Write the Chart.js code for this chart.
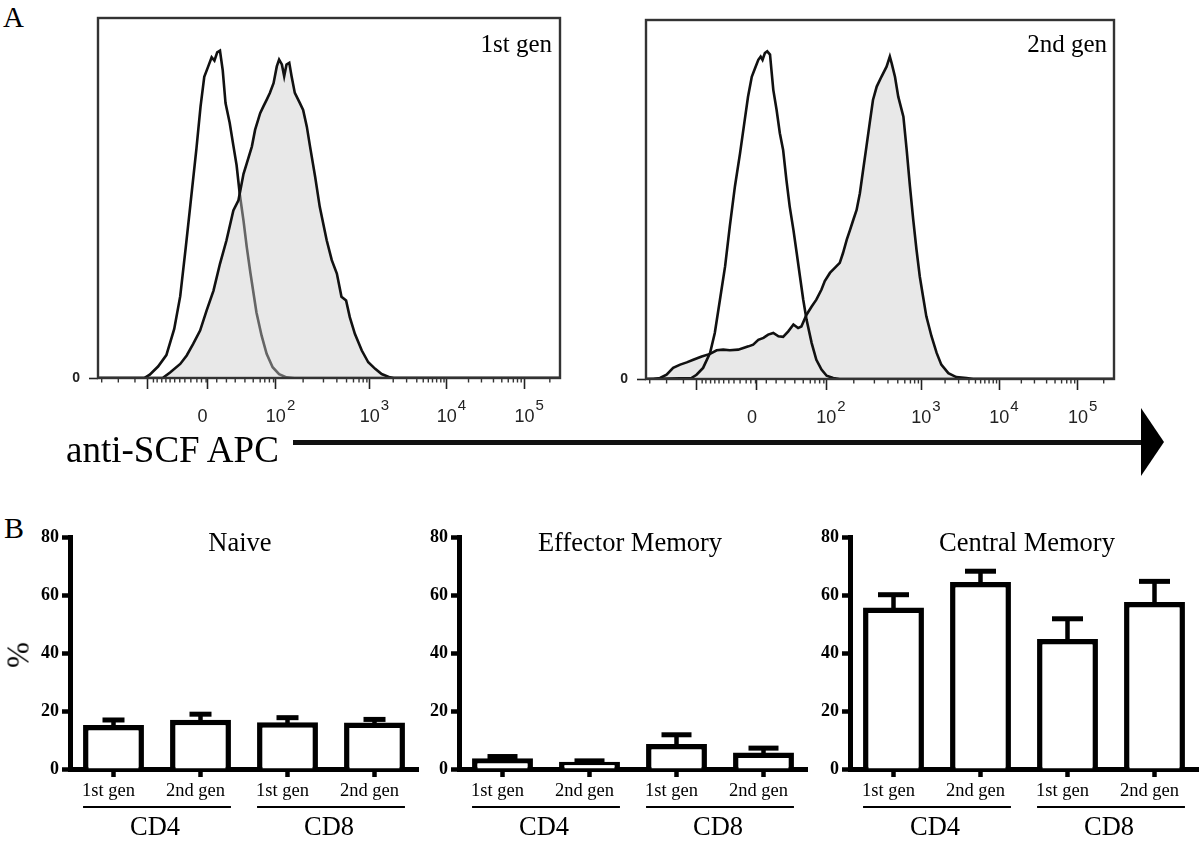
<!DOCTYPE html>
<html lang="en">
<head>
<meta charset="utf-8">
<title>SCF staining and T cell subsets</title>
<script src="https://cdn.jsdelivr.net/npm/chart.js@4.4.1/dist/chart.umd.min.js"></script>
<style>
  html, body { margin: 0; padding: 0; background: #fff; }
  body { position: relative; width: 1200px; height: 841px; overflow: hidden; font-family: 'Liberation Serif', 'Times New Roman', serif; color: #000; }
  .panel { position: absolute; }
  .txt { position: absolute; white-space: nowrap; line-height: 1; }
  .center { transform: translateX(-50%); }
</style>
</head>
<body>
<div class="txt" style="left:3px;top:3px;font-size:29px">A</div>
<div class="txt" style="left:4px;top:513px;font-size:30px">B</div>

<div class="panel" style="left:50px;top:0;width:520px;height:440px"><canvas id="hist1"></canvas></div>
<div class="panel" style="left:598px;top:0;width:526px;height:441px"><canvas id="hist2"></canvas></div>
<div class="txt" style="right:648px;top:31px;font-size:25px">1st gen</div>
<div class="txt" style="right:93px;top:31px;font-size:25px">2nd gen</div>

<div class="txt" style="left:66px;top:431px;font-size:37px">anti-SCF APC</div>
<div style="position:absolute;left:293px;top:440px;width:850px;height:5px;background:#111"></div>
<div style="position:absolute;left:1141px;top:408px;width:0;height:0;border-top:34px solid transparent;border-bottom:34px solid transparent;border-left:23px solid #000"></div>

<div class="panel" style="left:0;top:500px;width:430px;height:340px"><canvas id="naive"></canvas></div>
<div class="panel" style="left:400px;top:500px;width:420px;height:340px"><canvas id="effector"></canvas></div>
<div class="panel" style="left:790px;top:500px;width:410px;height:340px"><canvas id="central"></canvas></div>
<div class="txt center" style="left:240px;top:529px;font-size:26.5px">Naive</div>
<div class="txt center" style="left:630px;top:529px;font-size:26.5px">Effector Memory</div>
<div class="txt center" style="left:1027px;top:529px;font-size:26.5px">Central Memory</div>
<div class="txt" style="left:18px;top:655px;font-size:31px;transform:translate(-50%,-50%) rotate(-90deg)">%</div>

<script>
// Histogram axis in display channels (0-1000, biexponential display)
const majorTickChannels = [108, 237, 385, 588, 755, 923]
const majorTickBases = ['', '0', '10', '10', '10', '10']
const majorTickExponents = ['', '', '2', '3', '4', '5']
const minorTickChannels = [8, 44, 80, 120, 128, 138, 147, 156, 166, 177, 188, 201, 214, 224, 234,
  257, 278, 297, 318, 336, 351, 361, 371, 380, 444, 488, 517, 538, 553, 565, 574, 582,
  639, 668, 690, 704, 715, 724, 733, 742, 749, 802, 830, 856, 874, 888, 899, 908, 916, 978]

// 1st gen histogram (open = control, filled = anti-SCF APC)
const gen1ControlChannel = [0, 100, 112, 130, 148, 165, 178, 190, 200, 213, 222, 230, 238, 246, 252, 258, 264, 270, 276, 285, 293, 300, 307, 315, 322, 330, 343, 354, 365, 378, 392, 408, 425, 1000]
const gen1ControlCount = [0, 0, 1, 3.5, 7, 15, 25, 40, 53, 70, 83, 92, 95, 98, 97, 99.5, 100, 94, 84, 78, 71, 65, 56, 48, 40, 32, 20, 13, 7.4, 3.3, 1.2, 0.2, 0, 0]
const gen1StainChannel = [0, 140, 156, 178, 192, 206, 221, 235, 250, 264, 278, 293, 304, 315, 322, 333, 340, 351, 358, 365, 372, 380, 387, 392, 398, 403, 408, 414, 419, 426, 437, 444, 452, 459, 470, 480, 495, 506, 517, 527, 537, 545, 556, 571, 585, 600, 614, 632, 640, 1000]
const gen1StainCount = [0, 0, 1.7, 4.3, 6.9, 10.4, 14.5, 20.6, 26.7, 34.9, 42, 51.2, 54.3, 62.4, 65.6, 70.7, 75.8, 80.9, 83, 85, 87.1, 90.1, 95.2, 97.3, 95.8, 92.2, 95.8, 96.3, 92.2, 87.1, 84, 81.9, 76.8, 70.7, 61.5, 52.3, 42.1, 36, 31.9, 24.8, 23.7, 18.6, 13.5, 8.4, 4.8, 2.8, 1.2, 0.2, 0, 0]

// 2nd gen histogram
const gen2ControlChannel = [0, 97, 108, 122, 137, 147, 158, 169, 179, 190, 201, 211, 218, 226, 233, 240, 245, 249, 254, 259, 265, 268, 272, 279, 286, 293, 300, 307, 315, 322, 329, 336, 343, 354, 364, 375, 386, 400, 414, 1000]
const gen2ControlCount = [0, 0.3, 1.3, 3.4, 8, 14.1, 24.3, 34.5, 46.7, 59, 69.2, 79.4, 86.5, 92.6, 95.2, 97.8, 98.8, 97.8, 99.9, 100.4, 99.4, 94.7, 88.6, 82.5, 75.3, 70.2, 61, 52.9, 45.7, 38.6, 31.4, 24.3, 18.2, 11, 5.9, 2.9, 1, 0.3, 0, 0]
const gen2StainChannel = [0, 16, 30, 44, 58, 73, 87, 101, 119, 137, 151, 165, 179, 197, 208, 219, 229, 240, 251, 261, 272, 283, 293, 304, 315, 325, 332, 343, 354, 364, 375, 382, 393, 404, 414, 421, 429, 436, 443, 450, 457, 464, 471, 478, 485, 493, 503, 514, 521, 525, 532, 539, 550, 557, 564, 571, 578, 585, 592, 599, 610, 621, 631, 646, 663, 685, 699, 1000]
const gen2StainCount = [0, 0, 0.3, 1.3, 3.4, 4.4, 5.1, 5.9, 6.9, 7.7, 8.8, 9, 8.8, 9, 9.5, 10, 10.5, 12, 12.6, 13.6, 14.1, 13.1, 12.9, 14.6, 16.7, 15.6, 16.1, 19.7, 22.2, 24.3, 27.4, 30, 32.5, 34.1, 35.6, 38.6, 42.7, 45.7, 48.8, 51.8, 56.9, 64.1, 71.2, 78.4, 85.5, 89.6, 92.6, 95.7, 98.8, 96.7, 92.6, 86.5, 80.4, 70.2, 59, 48.8, 39.6, 31.4, 25.3, 19.2, 13.1, 8, 4.4, 1.8, 0.6, 0.3, 0, 0]

// Panel B: % of cells, mean and SD
const genLabels = ['1st gen', '2nd gen', '1st gen', '2nd gen']
const groupLabels = ['CD4', 'CD8']
const naiveMean = [15.2, 17.0, 16.1, 16.0]
const naiveSd = [1.7, 1.9, 1.6, 1.1]
const effectorMean = [3.7, 2.5, 8.6, 5.7]
const effectorSd = [0.6, 0.3, 3.2, 1.5]
const centralMean = [55.7, 64.5, 44.8, 57.6]
const centralSd = [4.4, 3.7, 7.0, 7.1]

const toPoints = (xs, ys) => xs.map((x, i) => ({ x, y: ys[i] }))

// box around the histogram plot area
const framePlugin = {
  id: 'frame',
  afterDatasetsDraw (chart) {
    const { ctx, chartArea: a } = chart
    ctx.save()
    ctx.strokeStyle = '#333'
    ctx.lineWidth = 2.4
    ctx.strokeRect(a.left, a.top, a.right - a.left, a.bottom - a.top)
    ctx.restore()
  }
}

// minor ticks and 10^n labels of the biexponential axis
const flowAxisPlugin = {
  id: 'flowAxis',
  afterDraw (chart) {
    const { ctx, chartArea: a } = chart
    const x = chart.scales.x
    ctx.save()
    ctx.strokeStyle = '#333'
    ctx.lineWidth = 1.4
    minorTickChannels.forEach((v) => {
      const px = x.getPixelForValue(v)
      ctx.beginPath()
      ctx.moveTo(px, a.bottom)
      ctx.lineTo(px, a.bottom + 4.5)
      ctx.stroke()
    })
    ctx.fillStyle = '#222'
    majorTickChannels.forEach((v, i) => {
      const px = x.getPixelForValue(v)
      const base = majorTickBases[i]
      const exp = majorTickExponents[i]
      if (!base) return
      ctx.font = '18px "Liberation Sans", Arial, sans-serif'
      ctx.textAlign = 'center'
      ctx.textBaseline = 'alphabetic'
      const shift = exp ? 0 : -5
      ctx.fillText(base, px + shift, a.bottom + 44)
      if (exp) {
        const w = ctx.measureText(base).width
        ctx.font = '15px "Liberation Sans", Arial, sans-serif'
        ctx.textAlign = 'left'
        ctx.fillText(exp, px + w / 2 + 1, a.bottom + 32)
      }
    })
    ctx.restore()
  }
}

const createHistogram = (canvasId, controlPoints, stainPoints, controlOnTop, topPad) => {
  return new Chart(document.getElementById(canvasId), {
    type: 'line',
    data: {
      datasets: [{
        label: 'Control',
        data: controlPoints,
        borderColor: '#111',
        borderWidth: 2.6,
        pointRadius: 0,
        tension: 0,
        fill: false,
        order: controlOnTop ? 0 : 1
      }, {
        label: 'anti-SCF APC',
        data: stainPoints,
        borderColor: '#111',
        borderWidth: 2.6,
        backgroundColor: 'rgba(205, 205, 205, 0.45)',
        pointRadius: 0,
        tension: 0,
        fill: 'origin',
        order: controlOnTop ? 1 : 0
      }]
    },
    options: {
      responsive: true,
      maintainAspectRatio: false,
      animation: false,
      layout: { padding: { top: topPad, right: 10 } },
      plugins: {
        legend: { display: false },
        tooltip: { enabled: false }
      },
      scales: {
        x: {
          type: 'linear',
          min: 0,
          max: 1000,
          afterBuildTicks: (s) => { s.ticks = majorTickChannels.map((value) => ({ value })) },
          afterFit: (s) => { s.height = 62 },
          ticks: { display: false },
          grid: { drawOnChartArea: false, tickLength: 11, tickWidth: 1.6, tickColor: '#222' },
          border: { display: false }
        },
        y: {
          min: 0,
          max: 110,
          afterBuildTicks: (s) => { s.ticks = [{ value: 0 }] },
          afterFit: (s) => { s.width = 48 },
          ticks: { color: '#222', padding: 9, font: { family: 'Liberation Sans', size: 14, weight: 'bold' } },
          grid: { drawOnChartArea: false, tickLength: 9, tickWidth: 1.6, tickColor: '#222' },
          border: { display: false }
        }
      }
    },
    plugins: [framePlugin, flowAxisPlugin]
  })
}

const createSubsetChart = (canvasId, means, sds, axisWidth, rightPad, capWidth) => {
  const errorBarPlugin = {
    id: 'errorBars',
    afterDatasetsDraw (chart) {
      const { ctx } = chart
      const y = chart.scales.y
      ctx.save()
      ctx.strokeStyle = '#000'
      chart.getDatasetMeta(0).data.forEach((bar, i) => {
        const top = y.getPixelForValue(means[i] + sds[i])
        ctx.lineWidth = 4.5
        ctx.beginPath()
        ctx.moveTo(bar.x, bar.y + 2)
        ctx.lineTo(bar.x, top)
        ctx.stroke()
        ctx.lineWidth = 5
        ctx.beginPath()
        ctx.moveTo(bar.x - capWidth / 2, top)
        ctx.lineTo(bar.x + capWidth / 2, top)
        ctx.stroke()
      })
      ctx.restore()
    }
  }
  const groupPlugin = {
    id: 'groups',
    afterDraw (chart) {
      const { ctx, chartArea: a } = chart
      const bars = chart.getDatasetMeta(0).data
      ctx.save()
      ctx.strokeStyle = '#000'
      ctx.fillStyle = '#000'
      ctx.lineWidth = 2.2
      groupLabels.forEach((label, g) => {
        const first = bars[g * 2]
        const last = bars[g * 2 + 1]
        const left = first.x - first.width / 2
        const right = last.x + last.width / 2
        ctx.beginPath()
        ctx.moveTo(left, a.bottom + 38)
        ctx.lineTo(right, a.bottom + 38)
        ctx.stroke()
        ctx.font = '26.5px "Liberation Serif", "Times New Roman", serif'
        ctx.textAlign = 'center'
        ctx.textBaseline = 'alphabetic'
        ctx.fillText(label, (left + right) / 2 - 2, a.bottom + 66)
      })
      ctx.restore()
    }
  }
  return new Chart(document.getElementById(canvasId), {
    type: 'bar',
    data: {
      labels: genLabels,
      datasets: [{
        label: '%',
        data: means,
        backgroundColor: '#fff',
        borderColor: '#000',
        borderWidth: 5.5,
        borderSkipped: 'start',
        barPercentage: 0.7,
        categoryPercentage: 1
      }]
    },
    options: {
      responsive: true,
      maintainAspectRatio: false,
      animation: false,
      layout: { padding: { top: 37, right: rightPad } },
      plugins: {
        legend: { display: false },
        tooltip: { enabled: false }
      },
      scales: {
        x: {
          afterFit: (s) => { s.height = 71 },
          grid: { offset: false, drawOnChartArea: false, tickLength: 8, tickWidth: 4.5, tickColor: '#000' },
          border: { color: '#000', width: 5 },
          ticks: {
            color: '#000',
            padding: 3,
            labelOffset: -5,
            maxRotation: 0,
            autoSkip: false,
            font: { family: 'Liberation Serif', size: 18.5 }
          }
        },
        y: {
          min: 0,
          max: 80,
          afterFit: (s) => { s.width = axisWidth },
          ticks: {
            stepSize: 20,
            color: '#000',
            padding: 3,
            font: { family: 'Liberation Serif', size: 18, weight: 'bold' }
          },
          grid: { drawOnChartArea: false, tickLength: 8, tickWidth: 4.5, tickColor: '#000' },
          border: { color: '#000', width: 5 }
        }
      }
    },
    plugins: [errorBarPlugin, groupPlugin]
  })
}

createHistogram('hist1', toPoints(gen1ControlChannel, gen1ControlCount), toPoints(gen1StainChannel, gen1StainCount), false, 18)
createHistogram('hist2', toPoints(gen2ControlChannel, gen2ControlCount), toPoints(gen2StainChannel, gen2StainCount), true, 20)
createSubsetChart('naive', naiveMean, naiveSd, 70, 12, 22)
createSubsetChart('effector', effectorMean, effectorSd, 59, 13, 30)
createSubsetChart('central', centralMean, centralSd, 60, 2, 31)
</script>
</body>
</html>
